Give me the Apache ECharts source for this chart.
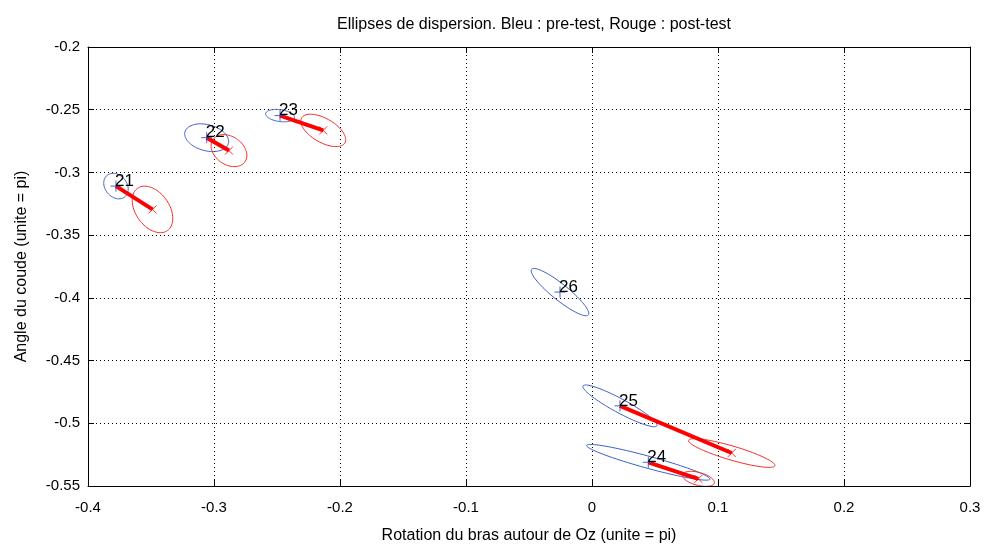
<!DOCTYPE html>
<html>
<head>
<meta charset="utf-8">
<script src="https://cdn.jsdelivr.net/npm/echarts@6/dist/echarts.min.js"></script>
<style>html,body{margin:0;padding:0;background:#fff}#c{width:984px;height:549px}</style>
</head>
<body>
<div id="c"></div>
<script>
// ---- data ----
const subjects = ['21', '22', '23', '24', '25', '26'];
// pre-test means (blue +)
const preX = [-0.3778, -0.3058, -0.2476, 0.0447, 0.0222, -0.0254];
const preY = [-0.3109, -0.2723, -0.2547, -0.5311, -0.4861, -0.3954];
// post-test means (red x); subject 26 has no post-test
const postX = [-0.3488, -0.2881, -0.2133, 0.0844, 0.1109, null];
const postY = [-0.3295, -0.2826, -0.2665, -0.5443, -0.5237, null];
// pre-test ellipses: semi-major axis vector (data units) and minor/major ratio
const preMajX = [0.00714, 0.01724, 0.0114, 0.04897, 0.0293, 0.02251];
const preMajY = [-0.00848, -0.00460, -0.0016, -0.01346, -0.0159, -0.01820];
const preRatio = [0.78, 0.58, 0.41, 0.094, 0.167, 0.22];
// post-test ellipses
const postMajX = [0.01183, 0.0127, 0.01718, 0.01265, 0.03425, null];
const postMajY = [-0.01687, -0.00887, -0.0099, -0.00338, -0.01012, null];
const postRatio = [0.65, 0.72, 0.48, 0.39, 0.156, null];
// axis ticks
const xTicks = ['-0.4', '-0.3', '-0.2', '-0.1', '0', '0.1', '0.2', '0.3'];
const yTicks = ['-0.55', '-0.5', '-0.45', '-0.4', '-0.35', '-0.3', '-0.25', '-0.2'];

const BLUE = '#3d5fc4';
const RED = '#f22a2a';
const FONT = "'Liberation Sans', Arial, sans-serif";

const preEllData = subjects.map((s, i) => [preX[i], preY[i], preMajX[i], preMajY[i], preRatio[i]]);
const postEllData = [];
const moveData = [];
const postPts = [];
subjects.forEach((s, i) => {
  if (postX[i] !== null) {
    postEllData.push([postX[i], postY[i], postMajX[i], postMajY[i], postRatio[i]]);
    moveData.push([preX[i], preY[i], postX[i], postY[i]]);
    postPts.push([postX[i], postY[i]]);
  }
});
const prePts = subjects.map((s, i) => [preX[i], preY[i], s]);

function ellipseRenderer(color) {
  return function (params, api) {
    const cx = api.value(0), cy = api.value(1);
    const c = api.coord([cx, cy]);
    const p = api.coord([cx + api.value(2), cy + api.value(3)]);
    const r = api.value(4);
    const mx = p[0] - c[0], my = p[1] - c[1];
    const nx = -my * r, ny = mx * r;
    const pts = [];
    for (let k = 0; k < 90; k++) {
      const t = k / 90 * Math.PI * 2;
      pts.push([c[0] + Math.cos(t) * mx + Math.sin(t) * nx, c[1] + Math.cos(t) * my + Math.sin(t) * ny]);
    }
    return { type: 'polygon', shape: { points: pts }, style: { fill: 'none', stroke: color, lineWidth: 1 } };
  };
}

const chart = echarts.init(document.getElementById('c'), null, { renderer: 'canvas' });
const axisCommon = {
  axisLine: { show: true, onZero: false, lineStyle: { color: '#000', width: 1 } },
  axisTick: { show: true, inside: true, length: 6, lineStyle: { color: '#000' } },
};
chart.setOption({
  animation: false,
  backgroundColor: '#fff',
  title: {
    text: 'Ellipses de dispersion. Bleu : pre-test, Rouge : post-test',
    left: 529, top: 12, textAlign: 'center',
    textStyle: { fontFamily: FONT, fontSize: 16, fontWeight: 'normal', color: '#000' }
  },
  grid: { left: 88, right: 14, top: 47, bottom: 60, containLabel: false },
  xAxis: [{
    type: 'value', min: -0.4, max: 0.3, interval: 0.1, position: 'bottom',
    name: 'Rotation du bras autour de Oz (unite = pi)', nameLocation: 'middle', nameGap: 42,
    nameTextStyle: { fontFamily: FONT, fontSize: 16, color: '#000' },
    ...axisCommon,
    axisLabel: { margin: 14, fontFamily: FONT, fontSize: 15, color: '#000',
      formatter: (v) => xTicks[Math.round((v + 0.4) / 0.1)] },
    splitLine: { show: true, lineStyle: { color: '#000', type: [1, 3], width: 1 } }
  }, {
    type: 'value', min: -0.4, max: 0.3, interval: 0.1, position: 'top',
    ...axisCommon, axisLabel: { show: false }, splitLine: { show: false }
  }],
  yAxis: [{
    type: 'value', min: -0.55, max: -0.2, interval: 0.05, position: 'left',
    name: 'Angle du coude (unite = pi)', nameLocation: 'middle', nameGap: 58,
    nameTextStyle: { fontFamily: FONT, fontSize: 16, color: '#000' },
    ...axisCommon,
    axisLabel: { margin: 8, fontFamily: FONT, fontSize: 15, color: '#000',
      formatter: (v) => yTicks[Math.round((v + 0.55) / 0.05)] },
    splitLine: { show: true, lineStyle: { color: '#000', type: [1, 3], width: 1 } }
  }, {
    type: 'value', min: -0.55, max: -0.2, interval: 0.05, position: 'right',
    ...axisCommon, axisLabel: { show: false }, splitLine: { show: false }
  }],
  series: [
    { name: 'pre-ellipses', type: 'custom', renderItem: ellipseRenderer(BLUE), data: preEllData,
      encode: { x: 0, y: 1 }, silent: true, clip: true, z: 2 },
    { name: 'post-ellipses', type: 'custom', renderItem: ellipseRenderer(RED), data: postEllData,
      encode: { x: 0, y: 1 }, silent: true, clip: true, z: 2 },
    { name: 'deplacement', type: 'custom', z: 3, silent: true, data: moveData, encode: { x: [0, 2], y: [1, 3] },
      renderItem: function (params, api) {
        const a = api.coord([api.value(0), api.value(1)]);
        const b = api.coord([api.value(2), api.value(3)]);
        return { type: 'line', shape: { x1: a[0], y1: a[1], x2: b[0], y2: b[1] },
          style: { stroke: '#ff0000', lineWidth: 4 } };
      } },
    { name: 'pre-test', type: 'scatter', data: prePts, z: 4, silent: true,
      symbol: 'path://M5,0L5,10M0,5L10,5', symbolSize: 11,
      itemStyle: { color: 'rgba(0,0,0,0)', borderColor: '#1f3fbf', borderWidth: 1 } },
    { name: 'post-test', type: 'scatter', data: postPts, z: 4, silent: true,
      symbol: 'path://M0,0L10,10M10,0L0,10', symbolSize: 8,
      itemStyle: { color: 'rgba(0,0,0,0)', borderColor: '#ff0000', borderWidth: 1 } },
    { name: 'labels', type: 'custom', z: 5, silent: true, data: prePts, encode: { x: 0, y: 1 },
      renderItem: function (params, api) {
        const c = api.coord([api.value(0), api.value(1)]);
        return { type: 'text', x: c[0] - 1, y: c[1] - 5,
          style: { text: subjects[params.dataIndex], fill: '#000', align: 'left', verticalAlign: 'middle',
            font: '17px ' + FONT } };
      } }
  ]
});
</script>
</body>
</html>
